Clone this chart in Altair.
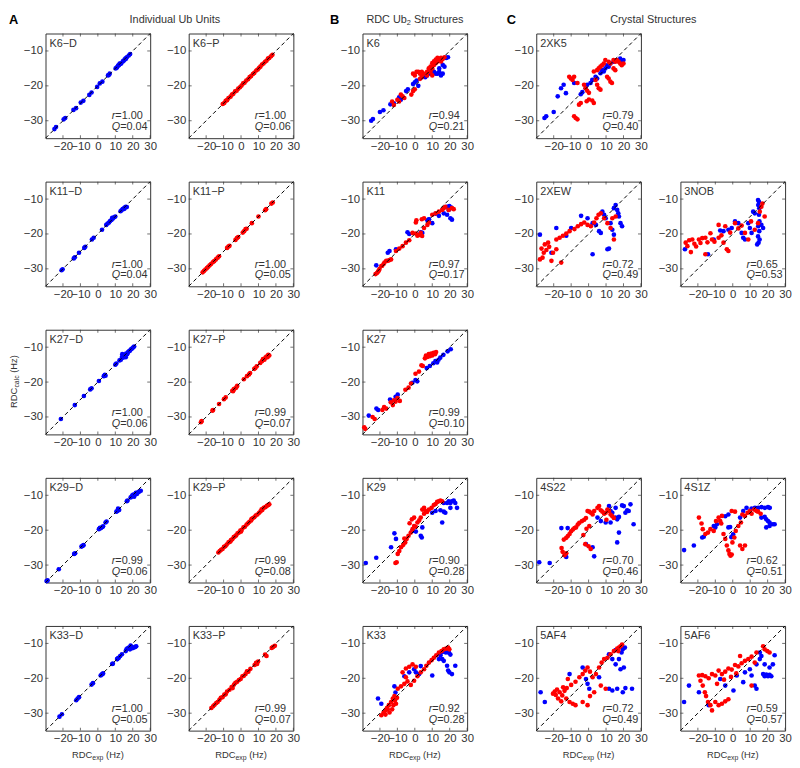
import altair as alt
import pandas as pd

XDOM = [-30, 30]
YDOM = [-35, -5]
XTICKS = [-20, -10, 0, 10, 20, 30]
YTICKS = [-30, -20, -10]

# ---- column A : individual Ub units (x = RDC exp, y = RDC calc) ----
K6D = [(-24.9,-32.4),(-24.0,-31.8),(-19.6,-29.6),(-18.7,-29.2),(-14.0,-26.9),(-12.5,-26.4),(-9.8,-24.8),(-8.3,-24.3),
       (-4.9,-22.6),(-3.6,-21.9),(-0.4,-20.3),(1.1,-19.3),(2.6,-18.8),(5.8,-17.0),(6.3,-16.9),(6.8,-16.5),(10.2,-15.0),
       (10.8,-14.8),(11.1,-14.6),(11.6,-14.2),(12.1,-14.1),(12.5,-13.6),(12.9,-13.7),(13.4,-13.6),(14.3,-13.0),(14.8,-12.8),
       (15.3,-12.5),(15.8,-12.2),(16.1,-12.2),(16.6,-11.8),(17.7,-11.3),(18.5,-10.9)]
K6P = [(-10.5,-25.2),(-9.6,-24.9),(-8.8,-24.3),(-8.0,-24.1),(-7.2,-23.5),(-6.0,-23.1),(-5.2,-22.5),(-4.4,-22.3),(-3.4,-21.6),
       (-2.5,-21.4),(-1.6,-20.8),(-0.6,-20.4),(0.3,-19.9),(1.2,-19.3),(2.0,-19.1),(3.0,-18.5),(4.0,-18.1),(4.9,-17.5),(5.8,-17.2),
       (6.8,-16.6),(7.6,-16.3),(8.7,-15.6),(9.6,-15.3),(10.4,-14.8),(11.1,-14.5),(12.0,-13.9),(12.9,-13.6),(13.8,-13.1),
       (14.6,-12.8),(15.4,-12.2),(16.2,-12.0),(17.2,-11.5),(18.0,-11.1)]
K11D = [(-20.2,-30.1),(-20.8,-30.4),(-13.8,-27.0),(-13.2,-26.7),(-10.8,-25.4),(-7.8,-24.0),(-7.2,-23.7),(-3.4,-21.6),(-2.4,-21.1),
        (2.4,-18.8),(4.8,-17.4),(5.6,-17.0),(6.4,-16.7),(7.0,-16.3),(7.8,-16.0),(8.6,-15.6),(9.4,-15.2),(10.0,-15.0),(8.2,-15.4),
        (13.0,-13.5),(13.6,-13.2),(14.2,-12.9),(14.8,-12.7),(15.4,-12.4),(16.0,-12.2),(16.6,-12.3),(15.2,-12.8)]
K11P = [(-22.0,-31.0),(-21.2,-30.6),(-20.4,-30.2),(-19.6,-29.8),(-18.8,-29.4),(-18.0,-29.0),(-17.2,-28.6),(-16.2,-28.1),
        (-15.4,-27.8),(-14.4,-27.3),(-13.4,-26.8),(-12.6,-26.4),(-8.0,-24.0),(-7.2,-23.6),(-6.6,-23.4),(-3.2,-21.7),(-2.4,-21.2),
        (-1.6,-20.9),(1.0,-19.6),(1.8,-19.2),(2.6,-18.6),(3.2,-18.5),(6.2,-16.9),(10.0,-15.0),(13.8,-13.2),(14.4,-12.9),
        (17.4,-11.3),(18.2,-11.0)]
K27D = [(-21.2,-30.6),(-13.2,-26.6),(-8.0,-24.0),(-4.4,-22.1),(-3.6,-21.8),(0.6,-19.7),(3.4,-18.3),(4.0,-17.9),(4.4,-18.2),
        (10.0,-15.0),(10.6,-14.7),(12.4,-13.8),(13.2,-13.6),(13.8,-12.8),(14.4,-13.0),(14.8,-12.6),(15.2,-12.2),(15.8,-12.5),
        (16.2,-11.8),(16.8,-12.0),(17.2,-11.5),(17.8,-11.2),(18.4,-11.0),(19.0,-10.6),(19.6,-10.4),(20.2,-10.1),(20.8,-9.8),
        (14.0,-12.0),(16.0,-12.9)]
K27P = [(-23.0,-31.5),(-22.6,-31.2),(-16.4,-28.2),(-16.0,-28.0),(-12.6,-26.3),(-9.8,-24.9),(-8.8,-24.4),(-5.0,-22.5),(-4.6,-22.6),
        (-4.2,-22.1),(-3.8,-21.9),(-2.2,-21.1),(-2.8,-21.6),(1.6,-19.2),(3.4,-18.3),(4.6,-17.8),(5.2,-17.4),(7.6,-16.2),(9.0,-15.5),
        (8.2,-16.0),(11.0,-14.5),(12.0,-14.0),(12.6,-13.4),(13.4,-13.6),(14.0,-13.0),(14.6,-12.7),(15.2,-12.9),(15.6,-12.2),(16.2,-12.4)]
K29D = [(-29.4,-34.6),(-28.8,-34.4),(-22.4,-31.2),(-13.6,-26.8),(-13.0,-26.6),(-9.4,-24.7),(-8.8,-24.5),(-8.2,-24.3),(0.6,-19.7),
        (1.2,-19.3),(1.8,-19.4),(2.6,-19.1),(3.0,-18.9),(4.4,-17.8),(5.0,-17.5),(10.6,-14.7),(11.2,-14.5),(11.6,-13.8),(12.2,-14.2),
        (16.6,-11.7),(17.0,-11.5),(18.8,-10.6),(19.8,-10.0),(20.4,-9.8),(19.6,-10.3),(21.0,-10.0),(21.8,-9.3),(22.4,-9.6),(23.2,-9.1),
        (23.8,-8.9),(24.6,-8.7),(20.8,-10.4)]
K29P = [(-13.0,-26.4),(-12.2,-26.0),(-11.4,-25.6),(-10.6,-25.4),(-9.8,-24.8),(-9.0,-24.6),(-8.2,-24.1),(-7.2,-23.5),(-6.6,-23.4),
        (-5.8,-22.8),(-5.0,-22.6),(-4.2,-22.0),(-3.6,-21.8),(-2.8,-21.5),(-2.0,-20.9),(-1.2,-20.7),(-0.4,-20.1),(0.4,-19.9),
        (1.4,-19.2),(2.2,-19.0),(3.2,-18.4),(4.0,-18.0),(4.8,-17.6),(5.8,-17.2),(6.6,-16.6),(7.6,-16.3),(8.4,-15.8),(9.4,-15.5),
        (10.4,-15.0),(11.2,-14.6),(12.2,-14.2),(13.0,-13.6),(14.0,-13.4),(14.8,-13.0),(15.6,-12.8),(16.2,-12.6),(-6.0,-23.2),
        (0.0,-20.4),(6.0,-16.8),(11.8,-14.0)]
K33D = [(-22.0,-31.0),(-20.6,-30.3),(-11.6,-25.8),(-10.8,-25.4),(-12.4,-26.3),(-3.6,-21.8),(-2.8,-21.4),(1.6,-19.2),(2.2,-18.9),
        (2.6,-18.8),(3.0,-18.6),(8.2,-15.9),(8.6,-15.8),(11.0,-14.5),(11.6,-14.2),(12.0,-14.1),(11.2,-14.5),(12.8,-13.6),(13.8,-13.1),
        (16.4,-11.7),(17.0,-11.4),(16.0,-12.2),(17.8,-11.2),(18.4,-11.7),(19.2,-11.0),(19.8,-11.4),(20.6,-11.2),(21.4,-11.0),
        (22.0,-10.8),(18.8,-10.6)]
K33P = [(-17.0,-28.5),(-16.0,-28.0),(-15.2,-27.6),(-14.2,-27.1),(-13.4,-26.8),(-12.4,-26.2),(-11.6,-25.6),(-10.6,-25.4),(-9.6,-24.7),
        (-8.8,-24.6),(-8.0,-23.8),(-6.6,-23.3),(-5.4,-22.5),(-4.8,-22.8),(-4.0,-21.8),(-3.2,-21.3),(-2.2,-21.0),(-1.2,-20.5),
        (-0.2,-20.2),(0.8,-19.4),(1.6,-19.3),(2.6,-18.8),(3.4,-18.0),(4.2,-18.1),(5.4,-17.3),(7.8,-16.2),(8.6,-15.6),(9.2,-15.9),
        (9.8,-15.2),(13.8,-13.2),(14.6,-13.6),(17.6,-11.3),(18.4,-11.0),(19.4,-10.7)]

# ---- column B : RDC Ub2 structures (blue = distal, red = proximal) ----
BK6_B = [(-25,-30),(-24,-29.5),(-20,-27.5),(-18,-27),(-14,-25.3),(-12,-25),(-9,-23.3),(-8,-24),(-5,-21.5),(-4,-21),(-1,-19.5),
         (0,-19),(1,-18.5),(2,-20),(4,-17.5),(6,-17.5),(7,-17),(8,-16),(9,-16.5),(10,-15.5),(11,-16),(12,-16.5),(13,-16.5),
         (14,-16),(15,-17),(16,-16.5),(17,-14.5),(18,-12),(19,-11.8),(16,-14),(14,-15)]
BK6_R = [(-13,-24.5),(-12,-25.5),(-10,-24),(-9,-24.5),(-8,-22.5),(-7,-23),(-6,-23.5),(-2,-22.5),(-1,-21.5),(0,-21),(-1,-16.5),
         (0,-17),(1,-16),(2,-16),(3,-16.5),(4,-17.5),(4,-16),(5,-16.5),(3,-18),(7,-16),(7,-17),(8,-15),(9,-14.5),(9,-16),(10,-15),
         (10,-13.5),(10,-17),(11,-14),(11,-13),(12,-13.5),(12,-12.5),(13,-13),(13,-12),(14,-12.5),(15,-12),(15,-13),(16,-12.3),(17,-11.8)]
BK11_B = [(-22.1,-29),(-15.5,-25.4),(-14.5,-24.9),(-10.8,-24.4),(-4.2,-19.5),(-3.2,-20),(3.4,-19.5),(4.3,-19.7),(7.2,-16.1),
          (8.1,-15.8),(10,-16.9),(11.9,-14.2),(13.8,-14.8),(16.6,-14.1),(18.5,-14.5),(20.4,-15.5),(21.3,-15.9),(18.5,-12.2),
          (19.8,-12),(20.9,-12.4),(19.4,-13.1),(20.2,-12.6),(8.1,-15.9)]
BK11_R = [(-22.5,-31.5),(-21.7,-31.2),(-21.1,-30.8),(-20.6,-30.5),(-20.2,-30),(-19.2,-29.2),(-18.7,-29.1),(-17.9,-28.6),
          (-17.4,-28.2),(-16.4,-27.7),(-15.5,-27.7),(-14.5,-27.5),(-13.6,-27.3),(-10.8,-24.9),(-8.9,-24.2),(-7,-23.5),(-5.1,-22.5),
          (-3.2,-21.8),(-1.3,-19.7),(0.6,-19.9),(1.5,-20.5),(3.4,-19.7),(5.3,-18.3),(7.2,-17.4),(8.1,-16.7),(0.6,-16.7),(0.9,-16.1),
          (4,-15.8),(5.3,-15.5),(10,-14.5),(11.9,-14.1),(13.8,-13.6),(15.7,-13.1),(16.6,-12.6),(17.5,-12.2),(19.4,-13.1),
          (21.3,-12.6),(22.3,-12.9),(2.5,-20.3),(4.2,-20.6)]
BK27_B = [(-26.4,-29.6),(-22.0,-27.6),(-21.0,-28.0),(-14.2,-25.0),(-11.0,-24.2),(-9.8,-23.6),(-1.4,-20.2),(0.4,-19.4),(1.4,-19.8),
          (6.8,-16.0),(8.6,-15.4),(10.6,-14.6),(11.8,-14.0),(12.8,-14.4),(14.6,-13.0),(16.4,-12.2),(18.8,-11.2),(20.6,-10.6),(13.6,-13.6)]
BK27_R = [(-29.0,-33.0),(-28.4,-33.4),(-24.2,-30.0),(-23.0,-30.6),(-18.6,-28.0),(-17.6,-27.2),(-16.4,-27.6),(-13.8,-25.8),
          (-12.6,-26.6),(-12.0,-25.2),(-11.0,-25.6),(-10.0,-24.6),(-8.6,-25.4),(-5.4,-22.2),(-3.6,-21.6),(-2.2,-20.4),(0.4,-17.6),
          (2.4,-17.0),(3.8,-15.2),(4.6,-15.4),(5.8,-13.2),(6.4,-12.4),(7.2,-12.8),(8.0,-12.0),(8.6,-12.6),(9.4,-11.8),(10.0,-12.4),
          (10.8,-11.6),(11.6,-12.0),(12.2,-11.4)]
BK29_B = [(-28.1,-29.4),(-22.1,-27.9),(-13.6,-24.9),(-11.7,-20.9),(-10.8,-22.5),(-1.3,-20.2),(0.6,-20.4),(3.4,-21.6),(4,-22.1),
          (4.3,-19.2),(10,-15),(11.9,-14.5),(14.7,-14.3),(16.6,-14.7),(15.7,-17.8),(17.5,-15),(18.5,-12.2),(19.4,-11.7),(20.4,-12.2),
          (21.3,-11.7),(22.3,-11.5),(23.2,-12.2),(24.2,-13.6),(20.4,-13.6),(16.6,-12.2)]
BK29_R = [(-11.1,-29.4),(-10.4,-29.2),(-9.8,-26.8),(-8.9,-26),(-7.9,-24.9),(-6.6,-24.2),(-5.5,-23.5),(-4.7,-22.5),(-3.6,-21.6),
          (-2.3,-20.7),(-1.3,-19.7),(-0.4,-18.8),(-1.7,-16.9),(-0.4,-16.4),(1.5,-17.8),(2.5,-17.2),(3.4,-16.4),(5.3,-15.3),(6.2,-14.5),
          (8.1,-14.1),(9.6,-13.6),(10.9,-12.8),(11.9,-12.5),(12.8,-11.9),(13.8,-11.7),(14.7,-11.5),(15.7,-11.7),(4.3,-14.1),
          (5.3,-13.6),(-6.0,-22.4),(-3.0,-18.0),(0.5,-19.0),(7.0,-14.8)]
BK33_B = [(-21.1,-25.8),(-19.2,-27.3),(-11.7,-22.3),(-11.1,-24.1),(-6,-19.4),(-3.2,-18.3),(-0.4,-17.4),(0.6,-18.3),(2.5,-18.8),
          (3.4,-16.5),(10,-19.2),(13.8,-14.5),(14.7,-13.4),(15.7,-12.5),(16.8,-12.2),(17.8,-12.6),(18.8,-12.3),(19.6,-12.7),
          (20.4,-13.2),(16.6,-15),(18.5,-16.4),(19.1,-17.8),(19.8,-18.3),(21.3,-18.8),(23.2,-16.4),(15.7,-14.5)]
BK33_R = [(-19.2,-30.6),(-17.9,-29.8),(-16.8,-29.2),(-16,-28.5),(-14.9,-27.7),(-13.6,-26.8),(-12.6,-25.8),(-11.7,-25.1),
          (-14.5,-29.8),(-13,-28.9),(-12.3,-27.7),(-10.8,-27.3),(-16.8,-30.4),(-9.8,-23),(-7.9,-22.3),(-6,-21.6),(-4.2,-20.9),
          (-2.3,-21.9),(-0.4,-20.7),(1.5,-19.4),(3.4,-18.3),(5.3,-17.4),(6.6,-16.4),(8.1,-15.5),(9.6,-14.8),(10.9,-14.1),
          (12.3,-13.4),(13.8,-12.6),(15.3,-12.2),(16.6,-11.7),(17.9,-11.5),(19.1,-11.2),(19.8,-11.7),(-5.1,-17.2),(-3.2,-16.7),
          (-1.3,-16),(0.6,-16.7),(-7,-18.3),(-5.1,-19.7),(-15.5,-28.9),(-11.4,-26.4),(-10.2,-25.6)]

# ---- column C : crystal structures ----
C2XK5_B = [(-25.3,-29.2),(-24.3,-28.7),(-20,-27.5),(-17.7,-23),(-15.8,-20.7),(-14.3,-19.7),(-13,-22.1),(-8.3,-19.2),(-4.5,-22.4),
           (-3.6,-21.8),(-1.7,-20.7),(-0.8,-19.7),(1.1,-19.2),(2.1,-18.3),(4,-17.4),(4.9,-17.9),(6.8,-16.4),(7.7,-15.5),(8.7,-15.9),
           (9.6,-15),(10.6,-14.1),(11.5,-14.5),(12.5,-13.6),(14.3,-13.1),(16.2,-12.6),(18.1,-12.2),(19,-13.1),(20,-12.6)]
C2XK5_R = [(-11.1,-17.4),(-10.2,-17.9),(-9.2,-18.3),(-8.3,-17.4),(-6.4,-19.2),(-5.5,-25.4),(-4.5,-24.9),(-8.3,-28.7),(-7.4,-29.2),
           (-6.4,-29.6),(-2.6,-19.7),(-1.7,-20.7),(-0.8,-21.4),(0.2,-22),(-1.1,-24.4),(0.2,-23.9),(2.1,-24.2),(3,-24.9),(4,-18.3),
           (4.9,-19.7),(5.8,-20.7),(6.8,-21.1),(3,-15.9),(4.9,-15.5),(5.8,-15),(6.8,-14.5),(7.7,-14.1),(8.7,-13.6),(9.6,-12.6),
           (11.5,-13.1),(12.5,-13.6),(14.3,-12.6),(15.3,-13.1),(16.2,-12.6),(17.2,-13.1),(18.1,-13.6),(19,-14.1),(20,-13.6),
           (14.3,-15),(15.3,-15.5),(10.6,-17.4),(11.5,-17.9),(12.5,-18.8),(13.4,-19.2)]
C2XEW_B = [(-27.9,-20.2),(-21.3,-25.4),(-18.5,-18.3),(-12.8,-20.5),(-10,-18.3),(-4.3,-14.8),(-0.6,-15.5),(2.3,-16.9),(2.3,-25.8),
           (4.2,-17.4),(6,-19.2),(7,-19.7),(7.9,-13.6),(8.9,-14.5),(9.8,-15.5),(10.8,-24.4),(11.7,-24.2),(12.6,-16.9),(13.6,-18.8),
           (14.5,-20.2),(15.5,-11.7),(16.4,-13.1),(17,-14.1),(17.4,-15),(18.3,-16.9),(19.2,-17.8),(14.5,-12.6)]
C2XEW_R = [(-27.9,-27.3),(-26.4,-26.8),(-25.7,-25.4),(-24.2,-24.6),(-22.6,-23.7),(-27,-24.2),(-25.1,-23),(-23.2,-22.5),(-21.3,-27.7),
           (-20.4,-25.4),(-18.5,-24.4),(-15.7,-28.2),(-18.5,-21.6),(-16.6,-21.1),(-14.7,-20.5),(-12.8,-19.9),(-10.9,-19.2),(-8.1,-18.6),
           (-6.2,-17.8),(-4.3,-17.2),(-2.5,-16.7),(-0.6,-17.4),(1.3,-17.8),(3.2,-16.7),(4.5,-15.5),(5.7,-14.5),(7,-14.1),(8.9,-15.5),
           (10.8,-16.9),(12.6,-18.3),(14.5,-21.6),(13.6,-15.5),(15.5,-15)]
C3NOB_B = [(-27.4,-24.4),(-14.2,-25.8),(-10.9,-21.6),(-7.2,-19),(-5.3,-19.2),(-2.5,-18.8),(-0.6,-18.3),(1.3,-16.4),(3.2,-16.9),
           (5.1,-19.7),(6,-21.1),(7,-21.6),(8.9,-16.9),(9.8,-18.3),(10.8,-19.7),(11.7,-13.6),(12.6,-14.1),(14.5,-10.3),(15.0,-10.8),
           (14.6,-11.7),(15.2,-12.6),(15.0,-14.5),(15.3,-16.4),(14.6,-17.8),(15.2,-19.2),(14.5,-20.7),(15.4,-21.6),(14.8,-22.5),
           (14.0,-23),(16.4,-17.4),(17.4,-18.3)]
C3NOB_R = [(-27,-22.5),(-26,-23.5),(-25,-21.8),(-23.2,-21.6),(-22,-22.8),(-21,-23.6),(-19.4,-21.6),(-18.5,-22.6),(-17.5,-21.2),
           (-15.7,-21.1),(-15.7,-25.8),(-14.5,-22.4),(-11.9,-21.6),(-10.5,-22.2),(-8.1,-21.1),(-8.1,-17.4),(-6.5,-20.4),(-5.3,-22.5),
           (-4.3,-17.8),(-3.4,-24.4),(-2.5,-24.9),(-1.5,-19.6),(1.3,-16.9),(3.2,-18.4),(5.1,-17.6),(7,-19.7),(8.9,-21.6),(10.5,-16.4),
           (12.6,-18.8),(14.5,-16.9),(15.5,-13.6),(16.4,-12.2),(17,-11.3),(18.3,-15),(-12.8,-19.8),(-24.0,-25.2)]
C4S22_B = [(-28.3,-29.2),(-22.3,-29.4),(-15.6,-19.4),(-12.0,-19.4),(-12.8,-27.7),(-1.5,-24),(2.3,-24.9),(3.2,-27.5),(5.1,-16.4),
           (7,-17.4),(9.8,-17.8),(11.7,-13.1),(12.6,-14.5),(13.6,-15),(15.5,-13.6),(15.5,-16.4),(16.4,-16.9),(17.4,-16.2),(19.2,-12.9),
           (20.2,-13.1),(21.1,-15),(22.1,-14.3),(23,-14.5),(24,-12.6),(17.4,-20.7),(16.4,-23.5),(25.8,-18.3),(12.6,-17.8)]
C4S22_R = [(-15.5,-25.1),(-14.9,-26.2),(-13.8,-27.2),(-12.8,-26.6),(-14.2,-22.7),(-12.8,-22.2),(-11.9,-21.7),(-10.9,-21.1),
           (-10,-20.3),(-9,-19.8),(-8.1,-19.4),(-7.2,-19.2),(-6.2,-18.4),(-5.3,-17.9),(-3.8,-17.4),(-2.5,-17),(-1.5,-16.5),(-0.6,-14.5),
           (0.4,-14.7),(1.3,-15),(2.3,-15.5),(3.2,-14.5),(5.1,-13.6),(6,-13.1),(7,-14.3),(7.9,-14.7),(8.9,-15.3),(9.8,-15),(10.8,-14.1),
           (11.7,-14.5),(12.6,-15.5),(13.6,-16),(14.5,-16.5),(-1.9,-24.0),(0,-24.6),(1.2,-25.4),(-3.0,-21.4),(-1.2,-19.6),(0.4,-18.8),
           (10.2,-17.0)]
C4S1Z_B = [(-27.9,-25.7),(-22.3,-24.4),(-17.5,-22.1),(-16.6,-21.9),(-10.9,-18.8),(-10,-19.2),(-9.1,-18.3),(-2.5,-19.2),(-1.5,-19.1),
           (-4.3,-16),(-2.5,-15.5),(4.2,-16.4),(6,-14.5),(7.9,-13.6),(10.8,-13.8),(12.7,-13.6),(14.6,-13.6),(16.5,-13.4),(18.4,-13.6),
           (20.2,-13.4),(21.2,-13.6),(16.4,-16.4),(18.3,-16.2),(19.2,-16.9),(20.2,-17.4),(21.1,-17.8),(23,-18.3),(24,-18.3),
           (19.2,-19.2),(21.1,-18.8),(0.2,-21.2),(-0.8,-22.0)]
C4S1Z_R = [(-19.4,-16.4),(-17.9,-18.1),(-17.2,-19.7),(-15.7,-21.1),(-14.2,-20.7),(-12.8,-19.7),(-10.9,-20.2),(-9.6,-17.4),(-8.1,-16.4),
           (-6.6,-18.1),(-5.3,-21.1),(-4.3,-22.5),(-3.4,-24.4),(-2.5,-25.8),(-1.9,-26.8),(-1.3,-27.3),(-0.6,-27),(-0.2,-23.5),(0.9,-22.1),
           (1.7,-20.2),(3.2,-18.8),(4.7,-17.8),(5.5,-15.5),(7,-15.9),(8.5,-15),(9.8,-14.5),(10.8,-15.3),(12.3,-14.1),(13.6,-14.5),
           (14.5,-14.7),(16,-15.3),(4.2,-24.4),(5.5,-25.4),(7,-24.4),(-0.6,-14.5),(1.3,-14.7),(-6.2,-15.9),(-7.2,-17.4)]
C5AF4_B = [(-27.5,-24),(-25.1,-26.8),(-10.9,-18.8),(-3.4,-16.9),(-1.5,-20.2),(-0.6,-21.6),(0.4,-23),(6,-19.7),(11.7,-13.1),
           (13.6,-14.5),(15.5,-16),(17.4,-14.5),(18.3,-17.4),(20.2,-16.9),(18.9,-12.6),(19.6,-11.7),(20.8,-11.2),(13.6,-23.5),
           (16.4,-23),(19.6,-24),(21.1,-22.8),(24.9,-23),(11.7,-23),(15.5,-11.9)]
C5AF4_R = [(-20.4,-24.4),(-19.4,-23.8),(-18.1,-23.2),(-16.6,-24),(-15.1,-24.9),(-13.8,-23.6),(-12.5,-22.8),(-17.5,-25.8),(-15.7,-26.6),
           (-12.8,-25.8),(-10.9,-26.8),(-9.1,-27.3),(-7.5,-27.7),(-11.9,-20.2),(-10,-21.9),(-7.5,-21),(-5.3,-19.7),(-3.4,-18.8),
           (-1.9,-17.8),(-0.6,-16.9),(0.8,-18.1),(2.3,-19.7),(4.2,-18.8),(6,-16.9),(7.5,-15.5),(8.9,-14.5),(10.8,-14.1),(12.6,-13.1),
           (14.5,-12.2),(16.4,-11.5),(18.3,-10.8),(19.2,-10.3),(-3.4,-26.8),(-0.6,-27.7),(0.8,-25.1),(3.2,-24),(7,-22.1),(9.8,-23),
           (17.4,-11.2),(17,-12.2),(-14.6,-22.6),(-18.8,-24.8)]
C5AF6_B = [(-27.9,-26.8),(-25.1,-22.1),(-19.4,-24),(-13.8,-27.7),(-7.2,-20.2),(-4.3,-22.1),(0.4,-23.5),(2.3,-19.2),(6,-21.1),
           (7,-18.3),(9.8,-17.4),(12.6,-22.1),(13.6,-23),(10.8,-19.2),(13.6,-16),(15.5,-14.5),(16.4,-13.6),(17.4,-18.8),(18.3,-19.4),
           (19.2,-18.9),(20.2,-19.4),(21.1,-19),(22.1,-19.4),(21.1,-16.9),(23,-16),(24,-13.4),(18.3,-16),(15.5,-12.6)]
C5AF6_R = [(-19.4,-19.2),(-18.5,-20.7),(-17.2,-22.1),(-16,-24),(-15.3,-25.1),(-14.2,-26.8),(-12.8,-27.7),(-17.5,-19.1),(-15.7,-19.4),
           (-13.8,-20),(-11.9,-18.8),(-10,-19.2),(-8.1,-17.8),(-6.2,-18.8),(-4.3,-18.1),(-2.5,-17.2),(-0.6,-17.5),(1.3,-16.2),(3.2,-16.6),
           (5.1,-15.7),(7,-15),(8.9,-14.5),(10.8,-13.8),(12.6,-15.5),(13.6,-12.6),(17.4,-10.8),(18.3,-11.7),(19.8,-12.2),(21.1,-12.6),
           (4.2,-13.6),(-8.1,-27.7),(-6.2,-27.3),(-4.3,-26.6),(-2.5,-26),(-11.9,-29.2),(-10,-26.8),(10.8,-22.1),(-9.0,-21.6),
           (-5.0,-20.4),(-1.0,-19.6),(2.0,-18.6)]

# panel names, r and Q annotations, by (row, column)
GRID = {
    (0, 0): ("K6−D", K6D, [], "1.00", "0.04"),
    (0, 1): ("K6−P", [], K6P, "1.00", "0.06"),
    (0, 2): ("K6", BK6_B, BK6_R, "0.94", "0.21"),
    (0, 3): ("2XK5", C2XK5_B, C2XK5_R, "0.79", "0.40"),
    (1, 0): ("K11−D", K11D, [], "1.00", "0.04"),
    (1, 1): ("K11−P", [], K11P, "1.00", "0.05"),
    (1, 2): ("K11", BK11_B, BK11_R, "0.97", "0.17"),
    (1, 3): ("2XEW", C2XEW_B, C2XEW_R, "0.72", "0.49"),
    (1, 4): ("3NOB", C3NOB_B, C3NOB_R, "0.65", "0.53"),
    (2, 0): ("K27−D", K27D, [], "1.00", "0.06"),
    (2, 1): ("K27−P", [], K27P, "0.99", "0.07"),
    (2, 2): ("K27", BK27_B, BK27_R, "0.99", "0.10"),
    (3, 0): ("K29−D", K29D, [], "0.99", "0.06"),
    (3, 1): ("K29−P", [], K29P, "0.99", "0.08"),
    (3, 2): ("K29", BK29_B, BK29_R, "0.90", "0.28"),
    (3, 3): ("4S22", C4S22_B, C4S22_R, "0.70", "0.46"),
    (3, 4): ("4S1Z", C4S1Z_B, C4S1Z_R, "0.62", "0.51"),
    (4, 0): ("K33−D", K33D, [], "1.00", "0.05"),
    (4, 1): ("K33−P", [], K33P, "0.99", "0.07"),
    (4, 2): ("K33", BK33_B, BK33_R, "0.92", "0.28"),
    (4, 3): ("5AF4", C5AF4_B, C5AF4_R, "0.72", "0.49"),
    (4, 4): ("5AF6", C5AF6_B, C5AF6_R, "0.59", "0.57"),
}

W = H = 106
SPACERS = [31, 62, 62, 32]
BLUE, RED, INK = "#0000ff", "#ff0000", "#333333"
FONT = "Liberation Sans"


def txt(s, x, y, size=11, style="normal", weight="normal", align="left", color=INK, angle=0):
    kw = dict(align=align, baseline="alphabetic", fontSize=size, fontStyle=style,
              fontWeight=weight, color=color, font=FONT)
    if angle:
        kw["angle"] = angle
    return alt.Chart(pd.DataFrame({"t": [s]})).mark_text(**kw).encode(
        x=alt.value(x), y=alt.value(y), text="t:N")


def blank(w):
    return alt.Chart(pd.DataFrame({"v": [0]})).mark_point(opacity=0).encode(
        x=alt.value(0), y=alt.value(0)).properties(
        width=w, height=H, view=alt.ViewBackground(stroke="transparent"))


def panel(row, col):
    name, blue, red, r, q = GRID[(row, col)]
    pts = pd.DataFrame([{"x": a, "y": b, "s": "b"} for a, b in blue] +
                       [{"x": a, "y": b, "s": "r"} for a, b in red])
    xs = alt.Scale(domain=XDOM, nice=False, zero=False)
    ys = alt.Scale(domain=YDOM, nice=False, zero=False)
    common = dict(title=None, domain=False, ticks=False, tickSize=0, grid=False, format="d",
                  labelOverlap=False, labelFlush=False, labelFontSize=11.5, labelColor=INK, labelFont=FONT)
    xax = alt.Axis(values=XTICKS, labelPadding=2, **common)
    yax = alt.Axis(values=YTICKS, labelPadding=3, **common)

    def X(f):
        return alt.X(f, scale=xs, axis=xax)

    def Y(f):
        return alt.Y(f, scale=ys, axis=yax)

    dots = alt.Chart(pts).mark_circle(size=22, opacity=1).encode(
        x=X("x:Q"), y=Y("y:Q"),
        color=alt.Color("s:N", scale=alt.Scale(domain=["b", "r"], range=[BLUE, RED]), legend=None))
    diag = alt.Chart(pd.DataFrame({"x": [XDOM[0]], "y": [YDOM[0]], "x2": [XDOM[1]], "y2": [YDOM[1]]})).mark_rule(
        color="black", strokeWidth=1, strokeDash=[4, 3]).encode(x=X("x:Q"), y=Y("y:Q"), x2="x2:Q", y2="y2:Q")
    xt = pd.DataFrame({"t": XTICKS})
    yt = pd.DataFrame({"t": YTICKS})
    tk = dict(size=3, thickness=1, color=INK)
    ticks = [
        alt.Chart(xt).mark_tick(orient="vertical", **tk).encode(x=X("t:Q"), y=alt.value(H - 1.5)),
        alt.Chart(xt).mark_tick(orient="vertical", **tk).encode(x=X("t:Q"), y=alt.value(1.5)),
        alt.Chart(yt).mark_tick(orient="horizontal", **tk).encode(y=Y("t:Q"), x=alt.value(1.5)),
        alt.Chart(yt).mark_tick(orient="horizontal", **tk).encode(y=Y("t:Q"), x=alt.value(W - 1.5)),
    ]
    layers = [dots, diag] + ticks + [
        txt(name, 4, 13.5),
        txt("r", 67, 87, style="italic"), txt("=" + r, 70.7, 87),
        txt("Q", 67, 98, style="italic"), txt("=" + q, 75.6, 98),
    ]
    if row == 0 and col == 0:
        layers += [txt("A", -37, -10, size=13, weight="bold", color="black"),
                   txt("Individual Ub Units", 131, -11, align="center")]
    if row == 0 and col == 2:
        layers += [txt("B", -33, -10, size=13, weight="bold", color="black"),
                   txt("RDC Ub", 4, -11), txt("2", 44.9, -8.5, size=7.5), txt("Structures", 52.2, -11)]
    if row == 0 and col == 3:
        layers += [txt("C", -30, -10, size=13, weight="bold", color="black"),
                   txt("Crystal Structures", 118.5, -11, align="center")]
    if row == 4:
        layers += [txt("RDC", 26.8, 133.5, size=9.5), txt("exp", 47.4, 136, size=7),
                   txt("(Hz)", 61.3, 133.5, size=9.5)]
    if row == 2 and col == 0:
        layers += [txt("RDC", -29, 79.2, size=9.5, angle=270), txt("calc", -26.5, 58.6, size=7, angle=270),
                   txt("(Hz)", -29, 43.6, size=9.5, angle=270)]
    return alt.layer(*layers).properties(width=W, height=H)


cells = []
for row in range(5):
    for col in range(5):
        cells.append(panel(row, col) if (row, col) in GRID else blank(W))
        if col < 4:
            cells.append(blank(SPACERS[col]))

chart = alt.concat(*cells, columns=9, spacing={"row": 44, "column": 4}, bounds="flush", align="each").properties(
    padding=0
).configure(font=FONT).configure_view(stroke=INK, strokeWidth=1)

chart.save("out.html", embed_options={"renderer": "svg", "actions": False})
